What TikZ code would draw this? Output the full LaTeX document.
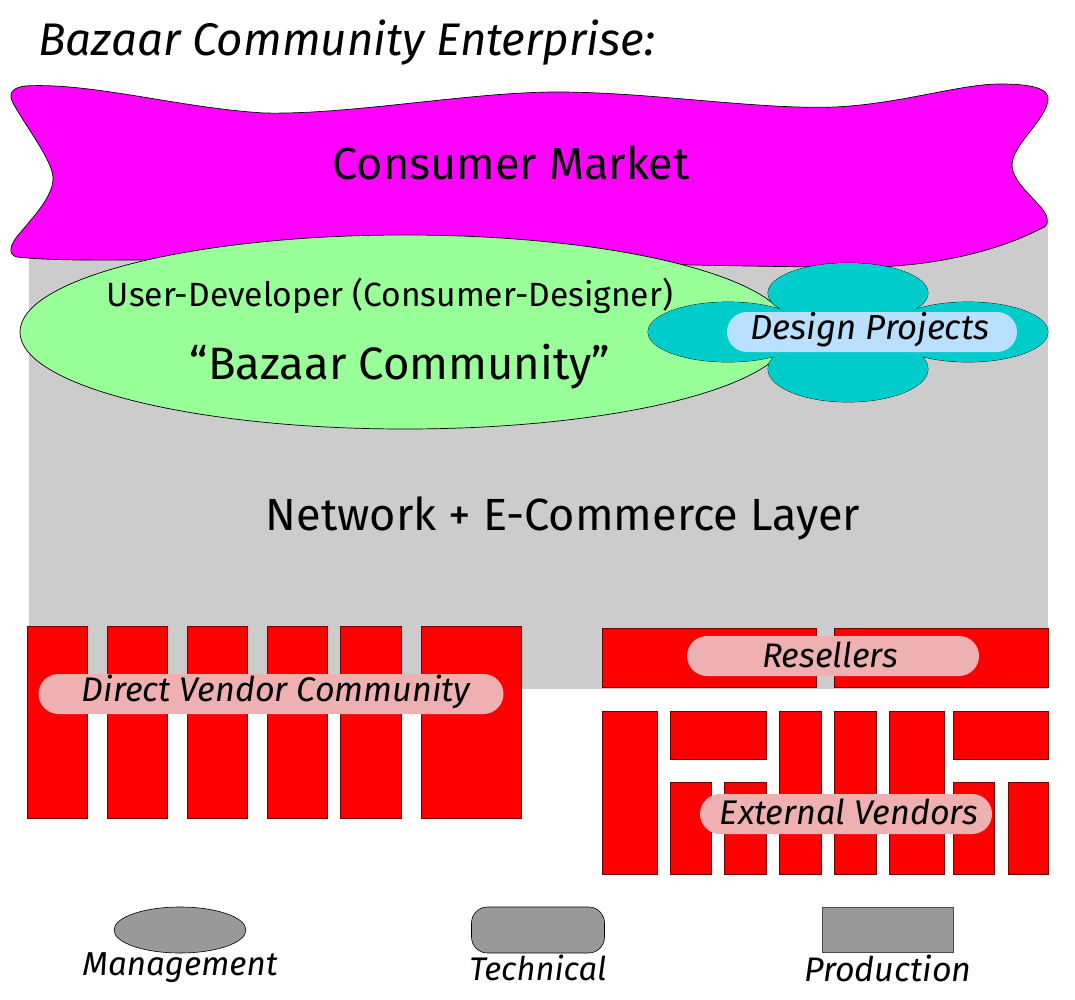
\documentclass[tikz,border=0pt]{standalone}
\usepackage{fontspec}
\setmainfont{Fira Sans}
\usepackage{graphicx}
\definecolor{layergray}{RGB}{204,204,204}
\definecolor{mkt}{RGB}{255,0,255}
\definecolor{comm}{RGB}{153,255,153}
\definecolor{petal}{RGB}{0,204,204}
\definecolor{dpill}{RGB}{185,225,255}
\definecolor{rpill}{RGB}{238,176,176}
\definecolor{legendgray}{RGB}{153,153,153}
\definecolor{blockedge}{RGB}{110,0,0}
\newcommand{\fitw}[2]{\resizebox{#1}{!}{#2}}
\begin{document}
\begin{tikzpicture}[x=1pt,y=-1pt,
  redblock/.style={fill=red,draw=blockedge,line width=0.8pt},
  pill/.style={rounded corners=20pt,minimum height=40pt,inner sep=0pt,draw=none},
  lbl/.style={inner sep=0pt,text=black},
  legshape/.style={fill=legendgray,draw=black,line width=0.6pt}]
\useasboundingbox (0,0) rectangle (1075,1000);
\fill[white] (0,0) rectangle (1075,1000);

% title
\node[lbl,anchor=west] (title) at (38,43) {\fitw{617pt}{\itshape Bazaar Community Enterprise:}};

% network layer
\fill[layergray] (29,222) rectangle (1048,689);

% consumer market banner
\draw[fill=mkt,draw=black,line width=0.7pt]
  (25,86) .. controls (90,82) and (180,108) .. (264,113)
  .. controls (350,115) and (470,92) .. (557,92)
  .. controls (650,92) and (760,110) .. (835,107)
  .. controls (900,104) and (960,84) .. (1000,84)
  .. controls (1030,84) and (1050,88) .. (1048,100)
  .. controls (1046,120) and (1012,145) .. (1012,165)
  .. controls (1012,185) and (1045,205) .. (1047,218)
  .. controls (1048,225) and (1046,227) .. (1040,229)
  .. controls (1000,250) and (940,265) .. (875,267)
  .. controls (700,268) and (400,255) .. (250,258)
  .. controls (150,260) and (60,262) .. (17,257)
  .. controls (8,255) and (9,245) .. (20,233)
  .. controls (35,215) and (54,195) .. (53,177)
  .. controls (52,160) and (25,125) .. (13,103)
  .. controls (8,93) and (12,88) .. (25,86) -- cycle;
\node[lbl] (market) at (511,163) {\fitw{357pt}{Consumer Market}};

% bazaar community ellipse
\draw[fill=comm,draw=black,line width=0.7pt] (405,332) ellipse [x radius=385, y radius=97];
\node[lbl] (userdev) at (390,296) {\fitw{566pt}{User-Developer (Consumer-Designer)}};
\node[lbl] (bazaar) at (400,367) {\fitw{420pt}{“Bazaar Community”}};

% design projects flower
\begin{scope}[line width=0.7pt]
  \draw (848,293) ellipse [x radius=80, y radius=30];
  \draw (848,369) ellipse [x radius=80, y radius=33];
  \draw (728,332) ellipse [x radius=80, y radius=30];
  \draw (968,332) ellipse [x radius=80, y radius=30];
  \fill[petal] (848,293) ellipse [x radius=80, y radius=30];
  \fill[petal] (848,369) ellipse [x radius=80, y radius=33];
  \fill[petal] (728,332) ellipse [x radius=80, y radius=30];
  \fill[petal] (968,332) ellipse [x radius=80, y radius=30];
\end{scope}
\node[pill,fill=dpill,minimum width=290pt] (dpbox) at (872,332) {};
\node[lbl] (design) at (870,330) {\fitw{239pt}{\itshape Design Projects}};

% network label
\node[lbl] (network) at (563,518) {\fitw{594pt}{Network + E-Commerce Layer}};

% direct vendor community blocks
\foreach \a/\b in {27/87, 107/167, 187/247, 267/327, 340/401, 421/521}
  \draw[redblock] (\a,626) rectangle (\b,818);
\node[pill,fill=rpill,minimum width=465pt] (dvbox) at (271,694) {};
\node[lbl] (direct) at (276,692) {\fitw{388pt}{\itshape Direct Vendor Community}};

% resellers
\draw[redblock] (602,628) rectangle (816,687);
\draw[redblock] (834,628) rectangle (1048,687);
\node[pill,fill=rpill,minimum width=292pt] (rsbox) at (833,656) {};
\node[lbl] (resellers) at (830,655) {\fitw{136pt}{\itshape Resellers}};

% external vendors
\draw[redblock] (602,711) rectangle (657,874);
\draw[redblock] (670,711) rectangle (766,759);
\draw[redblock] (670,782) rectangle (711,874);
\draw[redblock] (724,782) rectangle (766,874);
\draw[redblock] (779,711) rectangle (821,874);
\draw[redblock] (834,711) rectangle (876,874);
\draw[redblock] (889,711) rectangle (944,874);
\draw[redblock] (953,711) rectangle (1048,759);
\draw[redblock] (953,782) rectangle (994,874);
\draw[redblock] (1008,782) rectangle (1048,874);
\node[pill,fill=rpill,minimum width=292pt] (evbox) at (846,814) {};
\node[lbl] (external) at (849,812) {\fitw{258pt}{\itshape External Vendors}};

% legend
\draw[legshape] (180,930) ellipse [x radius=66, y radius=23];
\node[legshape,rounded corners=16pt,minimum width=133pt,minimum height=46pt,inner sep=0pt] (techshape) at (538,930) {};
\node[legshape,draw=black!70,minimum width=131pt,minimum height=45pt,inner sep=0pt] (prodshape) at (888,930) {};
\node[lbl] (mgmt) at (180,968) {\fitw{195pt}{\itshape Management}};
\node[lbl] (tech) at (538,968) {\fitw{137pt}{\itshape Technical}};
\node[lbl] (prod) at (888,968) {\fitw{167pt}{\itshape Production}};
\end{tikzpicture}
\end{document}
